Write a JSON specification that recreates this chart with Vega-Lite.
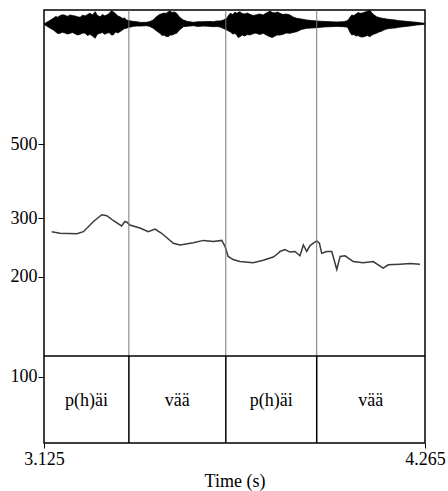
{
  "$schema": "https://vega.github.io/schema/vega-lite/v6.json",
  "width": 381,
  "height": 433,
  "autosize": {"type": "none"},
  "padding": {"left": 44, "top": 10, "right": 23, "bottom": 48},
  "config": {
    "view": {"stroke": "black", "strokeWidth": 1.5},
    "font": "Liberation Serif, Times New Roman, serif",
    "axis": {
      "labelFont": "Liberation Serif, Times New Roman, serif",
      "labelFontSize": 18,
      "labelColor": "black",
      "titleFont": "Liberation Serif, Times New Roman, serif",
      "titleFontSize": 18,
      "titleFontWeight": "normal",
      "titleColor": "black",
      "tickColor": "black",
      "grid": false,
      "domain": false
    }
  },
  "datasets": {
    "pitch": [
      {"t": 3.148, "f0": 273}, {"t": 3.173, "f0": 270}, {"t": 3.223, "f0": 269},
      {"t": 3.243, "f0": 273}, {"t": 3.273, "f0": 293}, {"t": 3.298, "f0": 307},
      {"t": 3.313, "f0": 305}, {"t": 3.332, "f0": 295}, {"t": 3.357, "f0": 284},
      {"t": 3.367, "f0": 293}, {"t": 3.374, "f0": 291}, {"t": 3.382, "f0": 286},
      {"t": 3.412, "f0": 280}, {"t": 3.437, "f0": 273}, {"t": 3.457, "f0": 278},
      {"t": 3.477, "f0": 270}, {"t": 3.512, "f0": 252}, {"t": 3.532, "f0": 249},
      {"t": 3.572, "f0": 253}, {"t": 3.602, "f0": 257}, {"t": 3.632, "f0": 255},
      {"t": 3.657, "f0": 257}, {"t": 3.667, "f0": 246}, {"t": 3.676, "f0": 230},
      {"t": 3.691, "f0": 225}, {"t": 3.711, "f0": 222}, {"t": 3.751, "f0": 220},
      {"t": 3.781, "f0": 224}, {"t": 3.811, "f0": 229}, {"t": 3.826, "f0": 235},
      {"t": 3.831, "f0": 238}, {"t": 3.846, "f0": 241}, {"t": 3.861, "f0": 237},
      {"t": 3.876, "f0": 238}, {"t": 3.891, "f0": 231}, {"t": 3.901, "f0": 249},
      {"t": 3.911, "f0": 238}, {"t": 3.921, "f0": 248}, {"t": 3.931, "f0": 252},
      {"t": 3.941, "f0": 256}, {"t": 3.949, "f0": 252}, {"t": 3.956, "f0": 235},
      {"t": 3.971, "f0": 238}, {"t": 3.986, "f0": 238}, {"t": 4.001, "f0": 210},
      {"t": 4.011, "f0": 230}, {"t": 4.026, "f0": 231}, {"t": 4.050, "f0": 222},
      {"t": 4.080, "f0": 220}, {"t": 4.110, "f0": 222}, {"t": 4.140, "f0": 212},
      {"t": 4.155, "f0": 217}, {"t": 4.190, "f0": 218}, {"t": 4.220, "f0": 219},
      {"t": 4.250, "f0": 218}
    ],
    "wave": [
      {"t": 3.125, "hi": 0.4, "lo": -0.4}, {"t": 3.128, "hi": 0.7, "lo": -1},
      {"t": 3.140, "hi": 3, "lo": -3.5}, {"t": 3.153, "hi": 5.7, "lo": -6},
      {"t": 3.160, "hi": 7.5, "lo": -8}, {"t": 3.166, "hi": 6.8, "lo": -9.5},
      {"t": 3.173, "hi": 8.3, "lo": -9.3}, {"t": 3.180, "hi": 9.2, "lo": -8.2},
      {"t": 3.188, "hi": 8.7, "lo": -9}, {"t": 3.195, "hi": 7.6, "lo": -10},
      {"t": 3.203, "hi": 9, "lo": -9.3}, {"t": 3.210, "hi": 8.4, "lo": -8.5},
      {"t": 3.218, "hi": 8, "lo": -9.7}, {"t": 3.225, "hi": 7.2, "lo": -11},
      {"t": 3.233, "hi": 6.7, "lo": -10.3}, {"t": 3.240, "hi": 8.8, "lo": -9.2},
      {"t": 3.248, "hi": 8, "lo": -9}, {"t": 3.255, "hi": 9.5, "lo": -11.5},
      {"t": 3.263, "hi": 10.7, "lo": -10.3}, {"t": 3.270, "hi": 9, "lo": -12},
      {"t": 3.278, "hi": 12.3, "lo": -14.3}, {"t": 3.285, "hi": 8.5, "lo": -10},
      {"t": 3.293, "hi": 7.3, "lo": -9.3}, {"t": 3.300, "hi": 9.6, "lo": -8.4},
      {"t": 3.306, "hi": 8.2, "lo": -10.2}, {"t": 3.313, "hi": 9, "lo": -9.3},
      {"t": 3.320, "hi": 10.5, "lo": -8.5}, {"t": 3.326, "hi": 13, "lo": -10.8},
      {"t": 3.332, "hi": 12.3, "lo": -11}, {"t": 3.336, "hi": 11.2, "lo": -9},
      {"t": 3.340, "hi": 10, "lo": -8}, {"t": 3.346, "hi": 8, "lo": -9},
      {"t": 3.352, "hi": 7.3, "lo": -7.7}, {"t": 3.360, "hi": 5.5, "lo": -6},
      {"t": 3.366, "hi": 6, "lo": -4.5}, {"t": 3.372, "hi": 4, "lo": -4.3},
      {"t": 3.378, "hi": 3.5, "lo": -3.2}, {"t": 3.385, "hi": 3, "lo": -3},
      {"t": 3.393, "hi": 2.6, "lo": -2.3}, {"t": 3.402, "hi": 2.3, "lo": -2},
      {"t": 3.415, "hi": 1.6, "lo": -2}, {"t": 3.432, "hi": 1.7, "lo": -1.7},
      {"t": 3.442, "hi": 2.5, "lo": -2.5}, {"t": 3.452, "hi": 4, "lo": -4.3},
      {"t": 3.462, "hi": 7.5, "lo": -7}, {"t": 3.472, "hi": 9.7, "lo": -9.3},
      {"t": 3.478, "hi": 10.2, "lo": -11.5}, {"t": 3.484, "hi": 11, "lo": -11},
      {"t": 3.490, "hi": 10.5, "lo": -12.3}, {"t": 3.497, "hi": 12.3, "lo": -12.7},
      {"t": 3.502, "hi": 13, "lo": -11}, {"t": 3.508, "hi": 11.5, "lo": -11},
      {"t": 3.515, "hi": 12, "lo": -10}, {"t": 3.522, "hi": 10.7, "lo": -9.3},
      {"t": 3.530, "hi": 7, "lo": -6}, {"t": 3.536, "hi": 5.5, "lo": -4.5},
      {"t": 3.542, "hi": 4, "lo": -2.7}, {"t": 3.555, "hi": 2.5, "lo": -2.2},
      {"t": 3.572, "hi": 1.7, "lo": -1.7}, {"t": 3.585, "hi": 2.2, "lo": -2.4},
      {"t": 3.601, "hi": 2.3, "lo": -2}, {"t": 3.615, "hi": 2.6, "lo": -2.2},
      {"t": 3.632, "hi": 2.3, "lo": -2.7}, {"t": 3.642, "hi": 3, "lo": -2.5},
      {"t": 3.652, "hi": 3, "lo": -3}, {"t": 3.662, "hi": 4, "lo": -4.5},
      {"t": 3.672, "hi": 5.7, "lo": -6}, {"t": 3.677, "hi": 8.5, "lo": -7},
      {"t": 3.682, "hi": 10.7, "lo": -7.7}, {"t": 3.690, "hi": 9.5, "lo": -10},
      {"t": 3.696, "hi": 11.8, "lo": -9.5}, {"t": 3.702, "hi": 10.7, "lo": -11},
      {"t": 3.706, "hi": 11.5, "lo": -13.5}, {"t": 3.711, "hi": 12.3, "lo": -12.7},
      {"t": 3.718, "hi": 10.5, "lo": -11}, {"t": 3.726, "hi": 10, "lo": -12},
      {"t": 3.733, "hi": 11, "lo": -10.5}, {"t": 3.741, "hi": 9.7, "lo": -11},
      {"t": 3.750, "hi": 8.5, "lo": -9.8}, {"t": 3.759, "hi": 9, "lo": -9},
      {"t": 3.770, "hi": 10, "lo": -10.5}, {"t": 3.781, "hi": 9, "lo": -9.3},
      {"t": 3.790, "hi": 11, "lo": -11}, {"t": 3.796, "hi": 12, "lo": -12},
      {"t": 3.801, "hi": 13, "lo": -12.7}, {"t": 3.808, "hi": 11.5, "lo": -13.5},
      {"t": 3.816, "hi": 11, "lo": -12}, {"t": 3.823, "hi": 12, "lo": -11},
      {"t": 3.831, "hi": 10.7, "lo": -11}, {"t": 3.840, "hi": 9.5, "lo": -10.3},
      {"t": 3.850, "hi": 10, "lo": -9}, {"t": 3.861, "hi": 9, "lo": -9.3},
      {"t": 3.870, "hi": 7, "lo": -8.5}, {"t": 3.881, "hi": 5.7, "lo": -7.7},
      {"t": 3.895, "hi": 5, "lo": -5.5}, {"t": 3.911, "hi": 4, "lo": -4.3},
      {"t": 3.925, "hi": 3.5, "lo": -4}, {"t": 3.941, "hi": 3, "lo": -3.7},
      {"t": 3.960, "hi": 2.6, "lo": -3}, {"t": 3.981, "hi": 2.3, "lo": -2.7},
      {"t": 4.000, "hi": 2, "lo": -2.4}, {"t": 4.021, "hi": 2.3, "lo": -2.7},
      {"t": 4.030, "hi": 3, "lo": -3}, {"t": 4.035, "hi": 4, "lo": -4},
      {"t": 4.040, "hi": 6.5, "lo": -8}, {"t": 4.046, "hi": 9, "lo": -11},
      {"t": 4.052, "hi": 8.5, "lo": -10.5}, {"t": 4.059, "hi": 10, "lo": -12},
      {"t": 4.065, "hi": 11.5, "lo": -11.5}, {"t": 4.071, "hi": 10.7, "lo": -12.7},
      {"t": 4.078, "hi": 11, "lo": -13}, {"t": 4.086, "hi": 12, "lo": -12.3},
      {"t": 4.093, "hi": 12.8, "lo": -11.5}, {"t": 4.100, "hi": 14, "lo": -12.7},
      {"t": 4.106, "hi": 11, "lo": -11}, {"t": 4.113, "hi": 9, "lo": -10},
      {"t": 4.120, "hi": 7.3, "lo": -9.3}, {"t": 4.127, "hi": 6.5, "lo": -8},
      {"t": 4.133, "hi": 6, "lo": -7.5}, {"t": 4.142, "hi": 5.5, "lo": -6},
      {"t": 4.150, "hi": 5, "lo": -5}, {"t": 4.162, "hi": 4.5, "lo": -4.3},
      {"t": 4.175, "hi": 4, "lo": -4}, {"t": 4.188, "hi": 3.3, "lo": -3.2},
      {"t": 4.200, "hi": 3, "lo": -2.7}, {"t": 4.220, "hi": 2.3, "lo": -2},
      {"t": 4.240, "hi": 1.7, "lo": -1}, {"t": 4.263, "hi": 0.7, "lo": -0.4}
    ],
    "tiers": [
      {"label": "p(h)äi", "mid": 3.252},
      {"label": "vää", "mid": 3.524},
      {"label": "p(h)äi", "mid": 3.805},
      {"label": "vää", "mid": 4.103}
    ],
    "bounds": [{"t": 3.379}, {"t": 3.669}, {"t": 3.941}]
  },
  "resolve": {"scale": {"y": "independent"}},
  "layer": [
    {
      "data": {"name": "wave"},
      "mark": {"type": "area", "color": "black", "stroke": "black", "strokeWidth": 0.8},
      "encoding": {
        "x": {"field": "t", "type": "quantitative", "scale": {"domain": [3.125, 4.265], "nice": false, "zero": false},
              "axis": {"values": [3.125, 4.265], "format": ".3f", "labelFlush": false, "tickSize": 5, "labelPadding": 2, "titlePadding": 4, "title": "Time (s)"}},
        "y": {"field": "hi", "type": "quantitative", "scale": {"domain": [-419, 14], "nice": false, "zero": false}, "axis": null},
        "y2": {"field": "lo"}
      }
    },
    {
      "data": {"name": "pitch"},
      "mark": {"type": "line", "color": "#3a3a3a", "strokeWidth": 1.5},
      "encoding": {
        "x": {"field": "t", "type": "quantitative", "scale": {"domain": [3.125, 4.265], "nice": false, "zero": false},
              "axis": {"values": [3.125, 4.265], "format": ".3f", "labelFlush": false, "tickSize": 5, "labelPadding": 2, "titlePadding": 4, "title": "Time (s)"}},
        "y": {"field": "f0", "type": "quantitative", "scale": {"type": "log", "domain": [63.1, 1269], "nice": false},
              "axis": {"values": [100, 200, 300, 500], "tickSize": 6, "labelPadding": 1, "title": null}}
      }
    },
    {
      "layer": [
        {
          "data": {"name": "bounds"},
          "mark": {"type": "rule", "color": "#777777", "strokeWidth": 1},
          "encoding": {
            "x": {"field": "t", "type": "quantitative", "scale": {"domain": [3.125, 4.265], "nice": false, "zero": false},
                  "axis": {"values": [3.125, 4.265], "format": ".3f", "labelFlush": false, "tickSize": 5, "labelPadding": 2, "titlePadding": 4, "title": "Time (s)"}},
            "y": {"datum": 1, "type": "quantitative", "scale": {"domain": [0, 4.977], "nice": false, "zero": false}, "axis": null},
            "y2": {"datum": 4.977}
          }
        },
        {
          "data": {"name": "bounds"},
          "mark": {"type": "rule", "color": "black", "strokeWidth": 1.5},
          "encoding": {
            "x": {"field": "t", "type": "quantitative"},
            "y": {"datum": 0, "type": "quantitative"},
            "y2": {"datum": 1}
          }
        },
        {
          "data": {"values": [{"v": 1}]},
          "mark": {"type": "rule", "color": "black", "strokeWidth": 1.5},
          "encoding": {
            "y": {"field": "v", "type": "quantitative"}
          }
        },
        {
          "data": {"name": "tiers"},
          "mark": {"type": "text", "font": "Liberation Serif, Times New Roman, serif", "fontSize": 18, "color": "black", "baseline": "middle", "align": "center", "dy": 2},
          "encoding": {
            "x": {"field": "mid", "type": "quantitative"},
            "y": {"datum": 0.5, "type": "quantitative"},
            "text": {"field": "label"}
          }
        }
      ]
    }
  ]
}
